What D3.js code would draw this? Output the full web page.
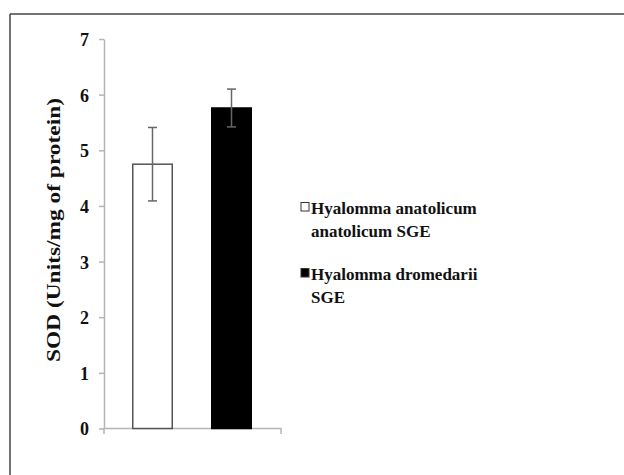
<!DOCTYPE html>
<html>
<head>
<meta charset="utf-8">
<script src="https://cdn.jsdelivr.net/npm/d3@7"></script>
<style>
  html, body { margin: 0; padding: 0; background: #fff; }
  svg { display: block; }
  text { font-family: "Liberation Serif", "Times New Roman", serif; font-weight: bold; fill: #111; }
</style>
</head>
<body>
<svg id="chart" width="624" height="475"></svg>
<script>
const categories = ["Hyalomma anatolicum anatolicum SGE", "Hyalomma dromedarii SGE"];
const legendLines = [["Hyalomma anatolicum", "anatolicum SGE"], ["Hyalomma dromedarii", "SGE"]];
const values = [4.75, 5.76];
const errors = [0.66, 0.34];
const fills = ["#ffffff", "#000000"];
const yTicks = [0, 1, 2, 3, 4, 5, 6, 7];
const yLabel = "SOD (Units/mg of protein)";

const svg = d3.select("#chart");

// frame lines (top and left)
svg.append("line").attr("x1", 10).attr("x2", 624).attr("y1", 14).attr("y2", 14)
  .attr("stroke", "#444").attr("stroke-width", 1.5);
svg.append("line").attr("x1", 10).attr("x2", 10).attr("y1", 14).attr("y2", 475)
  .attr("stroke", "#444").attr("stroke-width", 1.5);

const y = d3.scaleLinear().domain([0, 7]).range([428.5, 39]);
const x = d3.scaleBand().domain(categories).range([113, 271]).paddingInner(0.5).paddingOuter(0.25);

const axisColor = "#b5b5b5";

// y axis
const yAxis = svg.append("g").attr("transform", "translate(104,0)")
  .call(d3.axisLeft(y).tickValues(yTicks).tickFormat(d3.format("d")).tickSize(5).tickPadding(10).tickSizeOuter(0));
yAxis.attr("font-family", null).attr("font-size", null);
yAxis.select(".domain").attr("stroke", axisColor).attr("stroke-width", 1.5);
yAxis.selectAll(".tick line").attr("stroke", axisColor).attr("stroke-width", 1.5);
yAxis.selectAll(".tick text").attr("fill", "#111").attr("dy", "0.36em")
  .style("font-size", "18px")
  .style("font-family", "'Liberation Serif', serif").style("font-weight", "bold");

// x axis line with end ticks
svg.append("path")
  .attr("d", `M104,434V${y(0)}H281V434`)
  .attr("fill", "none").attr("stroke", axisColor).attr("stroke-width", 1.5);

// bars
svg.selectAll("rect.bar").data(categories).join("rect").attr("class", "bar")
  .attr("x", d => x(d)).attr("width", x.bandwidth())
  .attr("y", (d, i) => y(values[i])).attr("height", (d, i) => y(0) - y(values[i]))
  .attr("fill", (d, i) => fills[i]).attr("stroke", (d, i) => i === 0 ? "#555" : "#000").attr("stroke-width", 1.5);

// error bars
const eb = svg.selectAll("g.err").data(categories).join("g").attr("class", "err");
eb.append("line")
  .attr("x1", d => x(d) + x.bandwidth() / 2).attr("x2", d => x(d) + x.bandwidth() / 2)
  .attr("y1", (d, i) => y(values[i] + errors[i])).attr("y2", (d, i) => y(values[i] - errors[i]))
  .attr("stroke", "#666").attr("stroke-width", 1.5);
["+", "-"].forEach(s => {
  eb.append("line")
    .attr("x1", d => x(d) + x.bandwidth() / 2 - 4.5).attr("x2", d => x(d) + x.bandwidth() / 2 + 4.5)
    .attr("y1", (d, i) => y(values[i] + (s === "+" ? errors[i] : -errors[i])))
    .attr("y2", (d, i) => y(values[i] + (s === "+" ? errors[i] : -errors[i])))
    .attr("stroke", "#666").attr("stroke-width", 1.5);
});

// y label
svg.append("text")
  .attr("transform", "translate(60,230) rotate(-90)")
  .attr("text-anchor", "middle")
  .attr("textLength", 264).attr("lengthAdjust", "spacingAndGlyphs")
  .style("font-size", "18.5px")
  .text(yLabel);

// legend
const legendTop = [213.5, 279.5];
const lg = svg.selectAll("g.leg").data(categories).join("g").attr("class", "leg");
lg.append("rect")
  .attr("x", 301).attr("y", (d, i) => legendTop[i] - 11).attr("width", 8).attr("height", 8.5)
  .attr("fill", (d, i) => fills[i]).attr("stroke", "#333").attr("stroke-width", 1);
lg.each(function(d, i) {
  const t = d3.select(this).append("text").attr("x", 311).attr("y", legendTop[i]).style("font-size", "17px");
  legendLines[i].forEach((ln, j) => {
    t.append("tspan").attr("x", 311).attr("dy", j === 0 ? 0 : 23.4).text(ln);
  });
});
</script>
</body>
</html>
